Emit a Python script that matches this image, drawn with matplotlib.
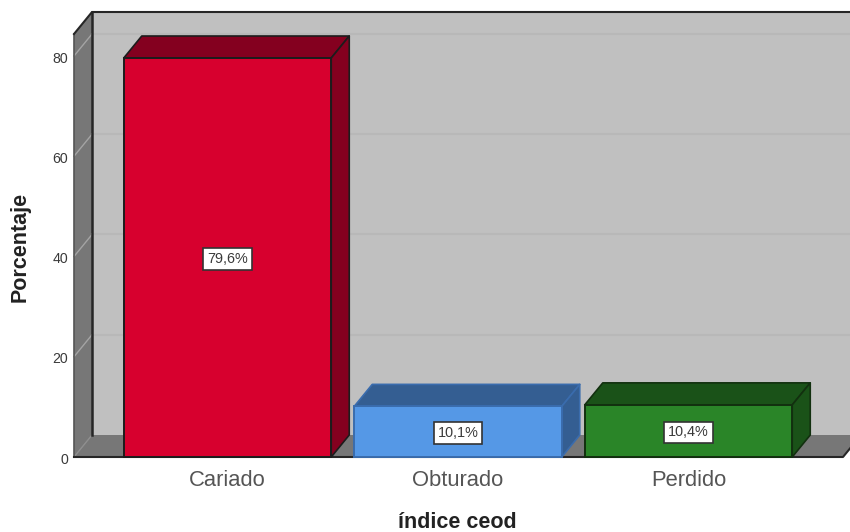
import matplotlib
matplotlib.use("Agg")
import matplotlib.pyplot as plt
from matplotlib.patches import Polygon
from matplotlib.transforms import ScaledTranslation

plt.rcParams['font.family'] = ['Liberation Sans', 'DejaVu Sans']

categories = ['Cariado', 'Obturado', 'Perdido']
values = [79.6, 10.1, 10.4]
value_labels = ['79,6%', '10,1%', '10,4%']
y_ticks = [0, 20, 40, 60, 80]
front_colors = ['#D7002E', '#5598E6', '#2A8528']
side_colors = ['#84001F', '#345E92', '#1A5218']
edge_colors = ['#1c1c1c', '#3A6CAD', '#12300f']

W, H = 850, 532
L, R, B, T = 74, 843, 457, 34
fig = plt.figure(figsize=(W / 100, H / 100), dpi=100, facecolor='white')
ax = fig.add_axes([L / W, 1 - B / H, (R - L) / W, (B - T) / H])
ax.patch.set_visible(False)

PX_X = 230.5
PX_Y = 401 / 80
x_min = (L - 227.5) / PX_X
x_max = (R - 227.5) / PX_X
y_max = (B - T) / PX_Y
ax.set_xlim(x_min, x_max)
ax.set_ylim(0, y_max)
DX = 18 / PX_X
DY = 22 / PX_Y
WIDTH = 207.5 / PX_X
DARK = '#262626'


def poly(pts, fc, ec='none', lw=0, z=1):
    ax.add_patch(Polygon(pts, closed=True, facecolor=fc, edgecolor=ec,
                         linewidth=lw, zorder=z, clip_on=False, joinstyle='round'))


# walls and floor
poly([(x_min + DX, DY), (x_max + DX, DY), (x_max + DX, y_max + DY), (x_min + DX, y_max + DY)], '#C0C0C0', z=1)
poly([(x_min, 0), (x_min + DX, DY), (x_min + DX, y_max + DY), (x_min, y_max)], '#777777', z=1)
poly([(x_min, 0), (x_max, 0), (x_max + DX, DY), (x_min + DX, DY)], '#777777', z=1)

# gridlines
for t in y_ticks[1:]:
    ax.plot([x_min + DX, x_max + DX], [t + DY, t + DY], color='#B8B8B8', lw=1.5, zorder=2, clip_on=False)
    ax.plot([x_min, x_min + DX], [t, t + DY], color='#A4A4A4', lw=1.0, zorder=2, clip_on=False)
ax.plot([x_min, x_min + DX], [0, DY], color='#8E8E8E', lw=1.0, zorder=2, clip_on=False)

# frame
ax.plot([x_min, x_min], [0, y_max], color='#555555', lw=1.2, zorder=3, clip_on=False)
ax.plot([x_min, x_min + DX, x_max + DX], [y_max, y_max + DY, y_max + DY],
        color=DARK, lw=1.5, zorder=3, clip_on=False, solid_joinstyle='round')
ax.plot([x_min + DX, x_min + DX], [DY, y_max + DY], color=DARK, lw=1.8, zorder=3, clip_on=False)
ax.plot([x_min, x_max, x_max + DX], [0, 0, DY], color=DARK, lw=1.5, zorder=3, clip_on=False)

# bars
xs = list(range(len(categories)))
for i, (x, v) in enumerate(zip(xs, values)):
    x0, x1 = x - WIDTH / 2, x + WIDTH / 2
    ec, z = edge_colors[i], 4 + i
    poly([(x0, v), (x1, v), (x1 + DX, v + DY), (x0 + DX, v + DY)], side_colors[i], ec, 1.2, z)
    poly([(x1, 0), (x1 + DX, DY), (x1 + DX, v + DY), (x1, v)], side_colors[i], ec, 1.2, z)
    ax.bar(x, v, width=WIDTH, color=front_colors[i], edgecolor=ec, linewidth=1.4, zorder=z + 0.5, clip_on=False)
    ax.text(x, v / 2, value_labels[i], ha='center', va='center_baseline', fontsize=10.4, color='#3a3a3a',
            zorder=12, bbox=dict(boxstyle='square,pad=0.27', facecolor='white', edgecolor='#333333', linewidth=1.2))

# axes text
for s in ax.spines.values():
    s.set_visible(False)
ax.set_xticks(xs)
ax.set_xticklabels(categories, fontsize=15.8, color='#555555')
ax.set_yticks(y_ticks)
ax.set_yticklabels([str(t) for t in y_ticks], fontsize=10.2, color='#3a3a3a')
ax.tick_params(axis='x', length=0, pad=9)
ax.tick_params(axis='y', length=0, pad=4.2)
shift = ScaledTranslation(0, -1.2 / 100, fig.dpi_scale_trans)
for lab in ax.get_yticklabels():
    lab.set_transform(lab.get_transform() + shift)

fig.text(457.5 / W, 1 - 522 / H, 'índice ceod', ha='center', va='center', fontsize=15.5, fontweight='bold', color='#222222')
fig.text(20 / W, 1 - 247 / H, 'Porcentaje', ha='center', va='center', rotation=90, fontsize=15.5, fontweight='bold', color='#222222')

fig.savefig('out.png', dpi=100)
